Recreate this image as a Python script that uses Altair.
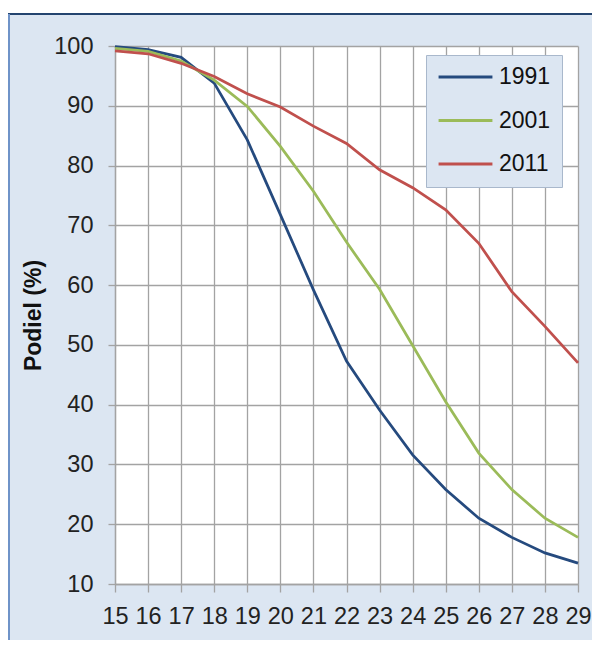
import altair as alt
import pandas as pd

ages = list(range(15, 30))
series = ["1991", "2001", "2011"]
colors = ["#254a7e", "#9bbb59", "#c0504d"]
v1991 = [99.9, 99.4, 98.1, 93.8, 84.3, 71.8, 59.2, 47.3, 39.1, 31.6, 25.8, 21.0, 17.8, 15.2, 13.5]
v2001 = [99.6, 99.1, 97.5, 94.3, 89.9, 83.2, 75.7, 67.2, 59.3, 49.9, 40.5, 31.9, 25.8, 21.0, 17.8]
v2011 = [99.2, 98.7, 97.1, 94.9, 92.0, 89.8, 86.6, 83.7, 79.3, 76.3, 72.6, 67.0, 58.9, 53.1, 47.0]
y_ticks = list(range(10, 101, 10))

rows = []
for name, vals in zip(series, [v1991, v2001, v2011]):
    for a, v in zip(ages, vals):
        rows.append({"age": a, "value": v, "year": name})
df = pd.DataFrame(rows)

W, H = 463, 538
PL, PT, PR, PB = 107, 38, 14, 56
FONT = "Liberation Sans"
GRID = "#a3a3a3"

lines = alt.Chart(df).mark_line(strokeWidth=2.75).encode(
    x=alt.X(
        "age:Q",
        scale=alt.Scale(domain=[15, 29], nice=False, zero=False),
        axis=alt.Axis(
            values=ages, title=None, format="d", grid=True, gridColor=GRID, gridWidth=1.3,
            tickColor=GRID, tickSize=8, tickWidth=1.3, domainColor=GRID, domainWidth=1.3,
            labelFontSize=23.5, labelFont=FONT, labelColor="#222222", labelPadding=12,
            labelFlush=False, labelOverlap=False,
        ),
    ),
    y=alt.Y(
        "value:Q",
        scale=alt.Scale(domain=[10, 100], nice=False, zero=False),
        axis=alt.Axis(
            values=y_ticks, title="Podiel (%)", grid=True, gridColor=GRID, gridWidth=1.3,
            tickColor=GRID, tickSize=7, tickWidth=1.3, domainColor=GRID, domainWidth=1.3,
            labelFontSize=23.5, labelFont=FONT, labelColor="#222222", labelPadding=15,
            labelFlush=False, labelOverlap=False,
            titleFont=FONT, titleFontSize=23, titleFontWeight="bold", titleColor="#111111",
            titlePadding=8,
        ),
    ),
    color=alt.Color(
        "year:N",
        scale=alt.Scale(domain=series, range=colors),
        legend=alt.Legend(
            title=None, orient="none", legendX=311, legendY=9,
            fillColor="#dce6f2", strokeColor="#a9b8cc", padding=11,
            symbolType="stroke", symbolSize=2900, symbolStrokeWidth=3,
            clipHeight=22,
            labelFontSize=23, labelFont=FONT, labelColor="#111111", labelOffset=5,
            rowPadding=20.5,
        ),
    ),
)

one = pd.DataFrame({"k": [0]})
white_strip = alt.Chart(one).mark_rect(color="white").encode(
    x=alt.value(-PL), x2=alt.value(W + PR + 10), y=alt.value(-PT - 2), y2=alt.value(-PT + 5)
)
top_border = alt.Chart(one).mark_rule(color="#24446f", strokeWidth=2).encode(
    x=alt.value(-PL), x2=alt.value(W + PR + 10), y=alt.value(-PT + 6)
)
left_border = alt.Chart(one).mark_rule(color="#6f93c8", strokeWidth=2).encode(
    x=alt.value(-PL + 1), y=alt.value(-PT + 6), y2=alt.value(H + PB + 10)
)

chart = alt.layer(white_strip, top_border, left_border, lines).properties(
    width=W, height=H,
    autosize=alt.AutoSizeParams(type="none"),
    padding={"left": PL, "top": PT, "right": PR, "bottom": PB},
    background="#dce6f2",
).configure_view(stroke="transparent", fill="white")

chart.save("out.html", embed_options={"renderer": "svg", "actions": False})
